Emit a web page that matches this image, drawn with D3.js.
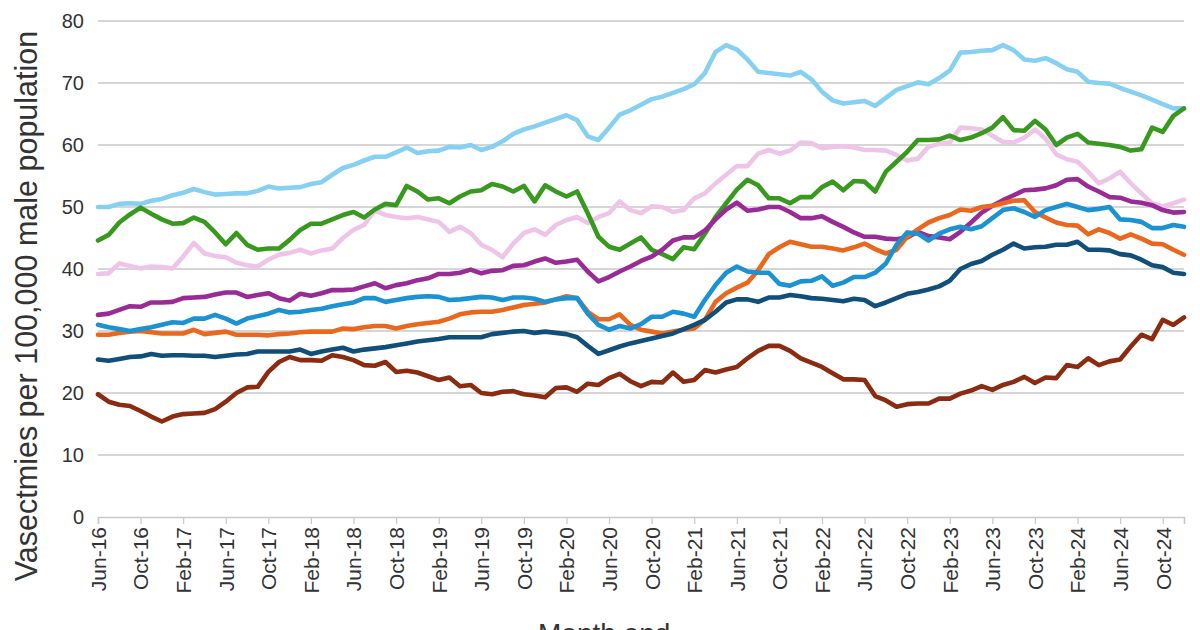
<!DOCTYPE html>
<html>
<head>
<meta charset="utf-8">
<script src="https://cdn.jsdelivr.net/npm/d3@7/dist/d3.min.js"></script>
<style>
  html, body { margin: 0; padding: 0; background: #ffffff; }
  svg { display: block; }
  text { font-family: "Liberation Sans", Arial, sans-serif; fill: #333333; }
</style>
</head>
<body>
<svg id="chart" width="1200" height="630"></svg>
<script>
// ---- Data (monthly, Jun-16 .. Dec-24) ----
const startMonth = "2016-06";
const monthCount = 103;

const tickLabels = ["Jun-16","Oct-16","Feb-17","Jun-17","Oct-17","Feb-18","Jun-18","Oct-18","Feb-19","Jun-19","Oct-19","Feb-20","Jun-20","Oct-20","Feb-21","Jun-21","Oct-21","Feb-22","Jun-22","Oct-22","Feb-23","Jun-23","Oct-23","Feb-24","Jun-24","Oct-24"];
const yTicks = [0,10,20,30,40,50,60,70,80];

const lightBlue = [50.0,50.0,50.5,50.6,50.5,51.0,51.3,51.9,52.3,52.9,52.4,52.0,52.1,52.2,52.2,52.6,53.3,53.0,53.1,53.2,53.7,54.0,55.2,56.3,56.8,57.5,58.1,58.1,58.8,59.6,58.7,59.0,59.1,59.7,59.6,60.0,59.2,59.7,60.6,61.8,62.5,63.0,63.6,64.2,64.8,64.0,61.4,60.8,62.8,64.9,65.6,66.5,67.4,67.8,68.4,69.0,69.8,71.6,75.0,76.1,75.4,73.8,71.8,71.6,71.4,71.2,71.8,70.6,68.6,67.2,66.7,66.9,67.1,66.3,67.6,68.9,69.5,70.1,69.8,70.8,72.0,74.9,75.0,75.2,75.3,76.1,75.3,73.8,73.6,74.0,73.2,72.2,71.8,70.2,70.0,69.9,69.2,68.6,68.0,67.3,66.6,65.9,65.9];

const green = [44.6,45.5,47.5,48.8,49.9,48.9,48.0,47.3,47.4,48.3,47.6,45.9,44.0,45.8,43.9,43.1,43.3,43.3,44.7,46.3,47.3,47.3,48.0,48.7,49.2,48.3,49.6,50.5,50.3,53.4,52.5,51.2,51.4,50.6,51.7,52.5,52.7,53.7,53.3,52.5,53.4,50.9,53.5,52.5,51.7,52.5,49.0,45.2,43.6,43.1,44.1,45.1,43.1,42.4,41.6,43.5,43.2,45.7,48.4,50.6,52.8,54.4,53.5,51.4,51.4,50.6,51.6,51.6,53.2,54.1,52.7,54.2,54.1,52.5,55.7,57.3,58.9,60.8,60.8,60.9,61.5,60.8,61.2,61.9,62.8,64.5,62.4,62.3,63.9,62.5,60.0,61.2,61.8,60.4,60.2,60.0,59.7,59.1,59.3,62.8,62.1,64.7,65.9];

const pink = [39.2,39.3,40.9,40.5,40.1,40.4,40.3,40.1,42.0,44.2,42.5,42.1,41.9,41.0,40.6,40.4,41.5,42.3,42.6,43.1,42.5,43.0,43.3,45.0,46.3,47.1,49.5,48.7,48.4,48.2,48.4,48.0,47.6,46.0,46.8,45.8,43.9,43.1,41.9,44.1,45.8,46.4,45.5,47.1,47.9,48.4,47.4,48.4,49.0,50.9,49.5,49.0,50.1,50.0,49.2,49.5,51.4,52.2,53.8,55.2,56.6,56.6,58.6,59.2,58.6,59.1,60.4,60.3,59.5,59.7,59.8,59.6,59.2,59.2,59.1,58.4,57.5,57.8,59.7,60.2,60.4,62.8,62.7,62.5,61.5,60.5,60.4,61.2,62.5,61.0,58.5,57.7,57.3,55.7,53.8,54.6,55.7,53.8,52.2,50.6,50.1,50.6,51.2];

const purple = [32.6,32.8,33.4,34.0,33.9,34.6,34.6,34.7,35.3,35.4,35.5,35.9,36.2,36.2,35.5,35.8,36.1,35.3,34.9,36.0,35.7,36.1,36.6,36.6,36.7,37.2,37.7,36.9,37.4,37.7,38.2,38.5,39.2,39.2,39.4,39.9,39.3,39.7,39.8,40.5,40.6,41.2,41.7,41.0,41.2,41.5,39.6,38.0,38.7,39.6,40.4,41.3,42.0,43.1,44.6,45.1,45.1,46.2,48.0,49.6,50.7,49.4,49.6,50.0,50.0,49.2,48.2,48.2,48.5,47.6,46.8,45.9,45.2,45.2,44.9,44.8,45.1,46.0,45.3,45.1,44.8,46.0,47.5,49.1,50.2,51.1,51.9,52.7,52.8,53.0,53.5,54.4,54.5,53.3,52.5,51.6,51.5,50.9,50.7,50.3,49.5,49.1,49.2];

const orange = [29.4,29.4,29.7,29.9,30.0,29.8,29.6,29.6,29.6,30.2,29.5,29.7,29.9,29.4,29.4,29.4,29.3,29.5,29.6,29.8,29.9,29.9,29.9,30.4,30.3,30.6,30.8,30.8,30.4,30.8,31.1,31.3,31.5,32.0,32.7,33.0,33.1,33.1,33.4,33.8,34.2,34.4,34.6,35.1,35.6,35.3,33.1,31.9,31.9,32.7,31.0,30.2,29.9,29.6,29.9,30.2,30.4,31.8,34.7,36.1,37.0,37.8,39.8,42.4,43.5,44.4,44.0,43.6,43.6,43.3,43.0,43.5,44.1,43.2,42.5,43.1,45.2,46.4,47.5,48.2,48.7,49.6,49.4,50.0,50.2,50.6,51.0,51.1,49.2,48.3,47.5,47.1,47.0,45.6,46.4,45.8,44.9,45.6,44.9,44.1,44.0,43.1,42.3];

const blue = [31.0,30.6,30.3,30.0,30.3,30.6,31.0,31.4,31.3,32.0,32.0,32.6,32.0,31.2,32.0,32.4,32.8,33.4,33.0,33.1,33.4,33.6,34.0,34.3,34.6,35.3,35.3,34.7,35.0,35.3,35.5,35.6,35.5,35.0,35.1,35.3,35.5,35.4,35.0,35.4,35.4,35.2,34.7,35.1,35.3,35.3,32.8,31.0,30.2,30.8,30.4,31.1,32.3,32.3,33.1,32.8,32.3,35.0,37.4,39.4,40.4,39.6,39.4,39.4,37.6,37.3,38.0,38.1,38.8,37.3,37.8,38.7,38.7,39.4,40.9,43.9,45.9,45.7,44.6,45.7,46.4,46.8,46.4,46.9,48.2,49.5,49.8,49.2,48.4,49.5,50.0,50.5,50.0,49.5,49.7,50.0,48.0,47.9,47.6,46.6,46.6,47.1,46.8];

const navy = [25.4,25.2,25.5,25.8,25.9,26.3,26.0,26.1,26.1,26.0,26.0,25.8,26.0,26.2,26.3,26.7,26.7,26.7,26.7,27.0,26.3,26.7,27.0,27.3,26.7,27.0,27.2,27.4,27.7,28.0,28.3,28.5,28.7,29.0,29.0,29.0,29.0,29.5,29.7,29.9,30.0,29.7,29.9,29.7,29.5,29.0,27.6,26.3,26.9,27.5,28.0,28.4,28.8,29.2,29.6,30.3,31.0,31.8,33.1,34.6,35.1,35.1,34.7,35.4,35.4,35.8,35.6,35.3,35.2,35.0,34.8,35.2,35.0,34.0,34.6,35.3,36.0,36.3,36.7,37.2,38.1,40.0,40.8,41.3,42.3,43.1,44.1,43.3,43.5,43.6,43.9,43.9,44.4,43.1,43.1,43.0,42.4,42.2,41.5,40.6,40.3,39.4,39.2];

const darkRed = [19.8,18.6,18.1,17.9,17.1,16.2,15.4,16.2,16.6,16.7,16.8,17.4,18.6,20.0,20.9,21.0,23.4,25.0,25.8,25.3,25.3,25.2,26.1,25.8,25.3,24.5,24.4,25.0,23.4,23.6,23.3,22.7,22.1,22.5,21.1,21.3,20.0,19.8,20.2,20.3,19.8,19.6,19.3,20.8,20.9,20.2,21.5,21.3,22.4,23.1,21.9,21.1,21.8,21.7,23.3,21.8,22.1,23.7,23.3,23.8,24.2,25.6,26.8,27.6,27.6,26.8,25.6,24.9,24.2,23.2,22.2,22.2,22.1,19.5,18.8,17.8,18.2,18.3,18.3,19.1,19.1,19.9,20.4,21.1,20.5,21.3,21.8,22.6,21.6,22.5,22.4,24.5,24.2,25.6,24.5,25.1,25.4,27.5,29.4,28.7,31.8,31.0,32.2];

const seriesNames = ["lightBlue","pink","green","purple","orange","blue","navy","darkRed"];
const seriesValues = [lightBlue, pink, green, purple, orange, blue, navy, darkRed];
const seriesColors = ["#86d0f2","#eec5e8","#38991f","#992b97","#ea681d","#1b92d2","#114f7b","#8b2b10"];

const yTitle = "Vasectmies per 100,000 male population";
const xTitle = "Month end";

// ---- Layout ----
const svg = d3.select("#chart");
const m = { left: 98, right: 1184, top: 21, bottom: 517 };

const x = d3.scaleLinear().domain([0, monthCount - 1]).range([m.left, m.right]);
const y = d3.scaleLinear().domain([0, 80]).range([m.bottom, m.top]);

// gridlines
svg.append("g").selectAll("line")
  .data(yTicks.filter(d => d > 0))
  .join("line")
  .attr("x1", m.left).attr("x2", m.right)
  .attr("y1", d => y(d)).attr("y2", d => y(d))
  .attr("stroke", "#c9c9c9").attr("stroke-width", 1.6);

// y axis labels
const yAxis = d3.axisLeft(y).tickValues(yTicks).tickSize(0).tickPadding(0);
const gy = svg.append("g").attr("transform", `translate(${m.left - 14},0)`).call(yAxis);
gy.select(".domain").remove();
gy.selectAll("text")
  .attr("font-size", 20)
  .style("font-family", "'Liberation Sans', Arial, sans-serif")
  .attr("fill", "#333");

// x axis
const tickIdx = tickLabels.map((_, i) => i * 4);
const xAxis = d3.axisBottom(x).tickValues(tickIdx).tickSize(7).tickFormat((d, i) => tickLabels[i]);
const gx = svg.append("g").attr("transform", `translate(0,${m.bottom})`).call(xAxis);
gx.select(".domain").attr("stroke", "#c9c9c9").attr("stroke-width", 1.6);
gx.selectAll(".tick line").attr("stroke", "#c9c9c9").attr("stroke-width", 1.2);
gx.selectAll("text")
  .attr("font-size", 21)
  .style("font-family", "'Liberation Sans', Arial, sans-serif")
  .attr("fill", "#333")
  .attr("transform", "rotate(-90)")
  .attr("text-anchor", "end")
  .attr("dy", "0.35em")
  .attr("x", -10)
  .attr("y", 0);

// lines
const line = d3.line().x((d, i) => x(i)).y(d => y(d));
svg.append("g").selectAll("path")
  .data(seriesValues)
  .join("path")
  .attr("d", line)
  .attr("fill", "none")
  .attr("stroke", (d, i) => seriesColors[i])
  .attr("stroke-width", 4.6)
  .attr("stroke-linejoin", "round")
  .attr("stroke-linecap", "round");

// axis titles
svg.append("text")
  .attr("transform", `translate(37,306) rotate(-90)`)
  .attr("text-anchor", "middle")
  .attr("font-size", 30.5)
  .text(yTitle);

svg.append("text")
  .attr("x", 538).attr("y", 643)
  .attr("font-size", 28)
  .text(xTitle);
</script>
</body>
</html>
